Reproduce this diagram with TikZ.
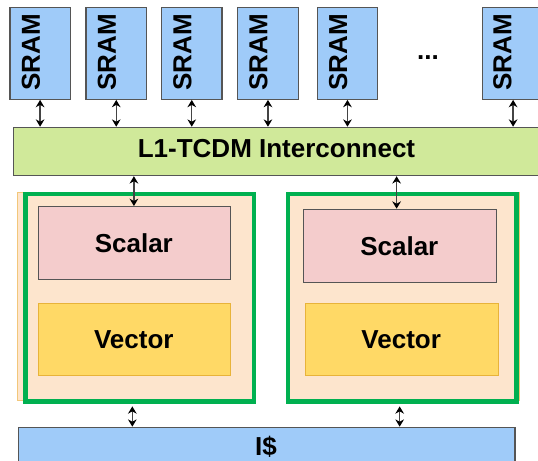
\documentclass[tikz,border=0pt]{standalone}
\usepackage{fontspec}
\setmainfont{Liberation Sans}
\usetikzlibrary{arrows.meta}
\definecolor{sramblue}{HTML}{9FCBF9}
\definecolor{l1green}{HTML}{D0E99A}
\definecolor{peach}{HTML}{FDE5CD}
\definecolor{peachedge}{HTML}{F2C77A}
\definecolor{pinkf}{HTML}{F4CCCC}
\definecolor{yel}{HTML}{FFD966}
\definecolor{yeledge}{HTML}{E8B33A}
\definecolor{boxgreen}{HTML}{00B050}
\definecolor{edgegray}{HTML}{555555}
\definecolor{shaft}{HTML}{444444}
\tikzset{
  bx/.style n args={4}{anchor=north west, inner sep=0pt,
    minimum width={(#3-#1)*0.75pt}, minimum height={(#4-#2)*0.75pt}},
  blk/.style={draw=edgegray, line width=0.9pt},
  lbl/.style={font=\bfseries\fontsize{19.5pt}{22pt}\selectfont, text=black, inner sep=0pt},
  biarrow/.style={draw=shaft, line width=1pt,
    {Stealth[length=5.5pt,width=6.5pt,color=black]}-{Stealth[length=5.5pt,width=6.5pt,color=black]}}
}
\begin{document}
\begin{tikzpicture}[x=0.75pt,y=-0.75pt]
\useasboundingbox (0,0) rectangle (538,460);
\clip (0,0) rectangle (538,460);
\fill[white] (0,0) rectangle (538,460);

% SRAM banks
\node[blk, fill=sramblue, bx={9.3}{6.7}{69.7}{98.7}] (s1) at (9.3,6.7) {};
\node[blk, fill=sramblue, bx={85.3}{6.7}{146}{98.7}] (s2) at (85.3,6.7) {};
\node[blk, fill=sramblue, bx={161}{6.7}{221.3}{98.7}] (s3) at (161,6.7) {};
\node[blk, fill=sramblue, bx={237}{6.7}{297.7}{98.7}] (s4) at (237,6.7) {};
\node[blk, fill=sramblue, bx={316.7}{6.7}{377}{98.7}] (s5) at (316.7,6.7) {};
\node[blk, fill=sramblue, bx={482}{6.7}{543}{98.7}] (s6) at (482,6.7) {};
\node[lbl, rotate=90] (t1) at (30.8,52.2) {SRAM};
\node[lbl, rotate=90] (t2) at (107,52.2) {SRAM};
\node[lbl, rotate=90] (t3) at (182.5,52.2) {SRAM};
\node[lbl, rotate=90] (t4) at (258.5,52.2) {SRAM};
\node[lbl, rotate=90] (t5) at (338.2,52.2) {SRAM};
\node[lbl, rotate=90] (t6) at (502.5,52.2) {SRAM};
\node[lbl] (dots) at (428,58) {...};

% interconnect
\node[blk, fill=l1green, bx={12.7}{126.7}{545}{175}] (l1) at (12.7,126.7) {};
\node[lbl] (l1t) at (276.5,149) {L1-TCDM Interconnect};

\foreach \s in {s1,s2,s3,s4,s5,s6}
  \draw[biarrow] (\s.south) -- (\s.south |- l1.north);

% cluster 1
\node[draw=peachedge, line width=0.6pt, fill=peach, bx={17.3}{191.7}{252}{400}] (p1) at (17.3,191.7) {};
\node[draw=boxgreen, line width=3.5pt, bx={23.3}{191.7}{251.6}{399.3}] (g1) at (23.3,191.7) {};
\node[blk, fill=pinkf, bx={37.7}{206}{230}{278.7}] (sc1) at (37.7,206) {};
\node[draw=yeledge, line width=0.9pt, fill=yel, bx={37.7}{302.7}{230}{375}] (v1) at (37.7,302.7) {};
\node[lbl] (sc1t) at (133.8,243) {Scalar};
\node[lbl] (v1t) at (133.8,340) {Vector};

% cluster 2
\node[draw=peachedge, line width=0.6pt, fill=peach, bx={286}{191.7}{519}{400}] (p2) at (286,191.7) {};
\node[draw=boxgreen, line width=3.5pt, bx={285.7}{191.7}{514.3}{399.3}] (g2) at (285.7,191.7) {};
\node[blk, fill=pinkf, bx={302.7}{208.7}{496}{281.7}] (sc2) at (302.7,208.7) {};
\node[draw=yeledge, line width=0.9pt, fill=yel, bx={304.7}{302.7}{497.7}{375}] (v2) at (304.7,302.7) {};
\node[lbl] (sc2t) at (399.3,246) {Scalar};
\node[lbl] (v2t) at (401.2,340) {Vector};

% instruction cache
\node[blk, fill=sramblue, bx={17.7}{426.7}{514.3}{470}] (ic) at (17.7,426.7) {};
\node[lbl, anchor=base] (ict) at (266,455.5) {I\$};

% connectors
\draw[biarrow] ([xshift=-0.4pt]sc1.north |- l1.south) -- ([xshift=-0.4pt]sc1.north);
\draw[biarrow] ([xshift=-2.5pt]sc2.north |- l1.south) -- ([xshift=-2.5pt]sc2.north);
\draw[biarrow] ([xshift=-5.6pt]g1.south) ++(0,-1.8pt) coordinate (a1) -- (a1 |- ic.north);
\draw[biarrow] ([xshift=-2pt]g2.south) ++(0,-1.8pt) coordinate (a2) -- (a2 |- ic.north);
\end{tikzpicture}
\end{document}
